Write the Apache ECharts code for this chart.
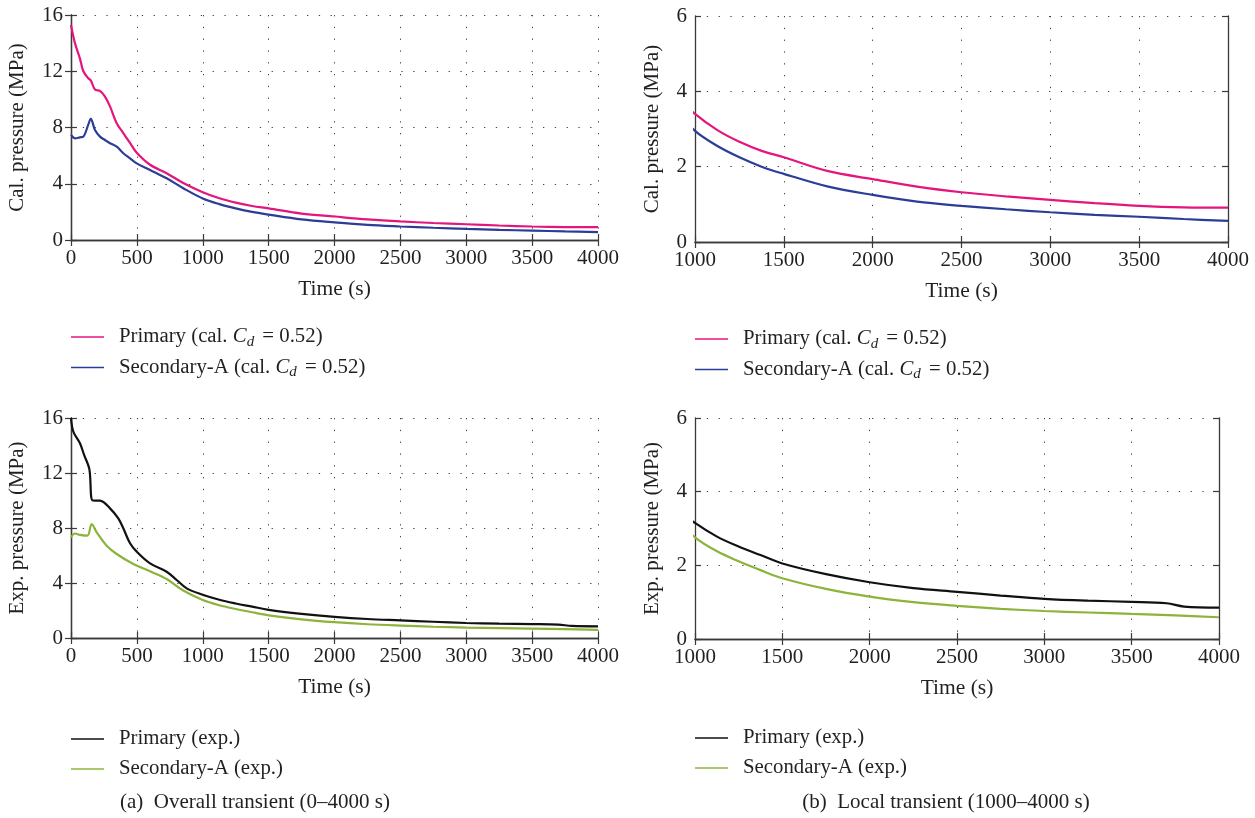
<!DOCTYPE html>
<html>
<head>
<meta charset="utf-8">
<script src="https://cdn.jsdelivr.net/npm/echarts@6/dist/echarts.min.js"></script>
<style>
html,body{margin:0;padding:0;background:#fff;}
#c{width:1255px;height:818px;}
</style>
</head>
<body>
<div id="c"></div>
<script>
// ---------- data ----------
const tCal = [0, 30, 68, 94, 131, 150, 182, 220, 258, 296, 347, 397, 448, 499, 600, 726, 852, 1000, 1126, 1250, 1375, 1500, 1750, 2000, 2250, 2500, 2750, 3000, 3250, 3500, 3750, 4000];
const calPrimary = [15.3, 14.0, 12.9, 12.0, 11.5, 11.35, 10.7, 10.6, 10.2, 9.5, 8.3, 7.6, 6.9, 6.2, 5.35, 4.75, 4.05, 3.4, 2.97, 2.66, 2.42, 2.25, 1.88, 1.67, 1.47, 1.32, 1.21, 1.12, 1.03, 0.96, 0.92, 0.91];
const calSecondary = [7.47, 7.23, 7.3, 7.35, 8.2, 8.62, 7.82, 7.35, 7.11, 6.88, 6.64, 6.17, 5.81, 5.45, 4.98, 4.39, 3.68, 2.95, 2.55, 2.25, 2.0, 1.81, 1.47, 1.25, 1.07, 0.96, 0.87, 0.79, 0.72, 0.67, 0.61, 0.56];

const tExpPrimary = [0, 18, 68, 100, 139, 165, 220, 296, 359, 397, 448, 499, 600, 726, 802, 878, 1000, 1126, 1250, 1375, 1500, 1750, 2000, 2250, 2500, 2750, 3000, 3250, 3500, 3700, 3800, 4000];
const expPrimary = [16.0, 15.0, 14.16, 13.3, 12.3, 10.0, 9.99, 9.43, 8.7, 7.98, 6.89, 6.28, 5.43, 4.82, 4.22, 3.61, 3.15, 2.78, 2.51, 2.28, 2.05, 1.76, 1.54, 1.38, 1.28, 1.18, 1.09, 1.04, 1.01, 0.97, 0.88, 0.85];
const tExpSecondary = [0, 30, 68, 124, 157, 195, 271, 347, 473, 600, 726, 852, 1000, 1126, 1250, 1375, 1500, 1750, 2000, 2250, 2500, 2750, 3000, 3250, 3500, 3750, 4000];
const expSecondary = [7.32, 7.6, 7.5, 7.44, 8.29, 7.69, 6.71, 6.11, 5.38, 4.85, 4.29, 3.45, 2.76, 2.38, 2.11, 1.87, 1.65, 1.36, 1.15, 1.0, 0.9, 0.82, 0.76, 0.72, 0.68, 0.64, 0.59];

const seriesNames = ['Primary (cal. Cd = 0.52)', 'Secondary-A (cal. Cd = 0.52)', 'Primary (exp.)', 'Secondary-A (exp.)'];
const xAxisName = 'Time (s)';
const yAxisNames = ['Cal. pressure (MPa)', 'Cal. pressure (MPa)', 'Exp. pressure (MPa)', 'Exp. pressure (MPa)'];
const captions = ['(a)  Overall transient (0\u20134000 s)', '(b)  Local transient (1000\u20134000 s)'];

// ---------- layout / style ----------
const FONT = '"Liberation Serif", "DejaVu Serif", serif';
const TXT = '#231f20';
const AX = '#3a3a3a';
const colors = ['#e4157c', '#2b3d97', '#111111', '#8cb43a'];

const panels = [
  {left: 71, top: 15, width: 527, height: 225, xmin: 0, ymax: 16, yint: 4, nameGap: 43},
  {left: 695, top: 16, width: 533, height: 226, xmin: 1000, ymax: 6, yint: 2, nameGap: 32},
  {left: 71, top: 418, width: 527, height: 220, xmin: 0, ymax: 16, yint: 4, nameGap: 43},
  {left: 695, top: 418, width: 524, height: 221, xmin: 1000, ymax: 6, yint: 2, nameGap: 32}
];

const grid = [], xAxis = [], yAxis = [];
panels.forEach((p, i) => {
  grid.push({left: p.left, top: p.top, width: p.width, height: p.height, containLabel: false});
  const tick = {show: true, inside: true, length: 6, lineStyle: {color: AX, width: 1.2}};
  const line = {show: true, lineStyle: {color: AX, width: 1.3}};
  const split = {show: true, lineStyle: {color: '#444', width: 1, type: [1.3, 10.5]}};
  xAxis.push({
    type: 'value', gridIndex: i, position: 'bottom', min: p.xmin, max: 4000, interval: 500,
    axisLine: line, axisTick: tick, splitLine: split,
    axisLabel: {fontFamily: FONT, fontSize: 21, color: TXT, margin: 8, formatter: v => String(v)},
    name: xAxisName, nameLocation: 'middle', nameGap: 38,
    nameTextStyle: {fontFamily: FONT, fontSize: 21.5, color: TXT}
  });
  xAxis.push({
    type: 'value', gridIndex: i, position: 'top', min: p.xmin, max: 4000, interval: 500,
    axisLine: line, axisTick: tick, splitLine: {show: false}, axisLabel: {show: false}
  });
  yAxis.push({
    type: 'value', gridIndex: i, position: 'left', min: 0, max: p.ymax, interval: p.yint,
    axisLine: line, axisTick: tick, splitLine: split,
    axisLabel: {fontFamily: FONT, fontSize: 21, color: TXT, margin: 8, formatter: v => String(v)},
    name: yAxisNames[i], nameLocation: 'middle', nameGap: p.nameGap, nameRotate: 90,
    nameTextStyle: {fontFamily: FONT, fontSize: 21, color: TXT}
  });
  yAxis.push({
    type: 'value', gridIndex: i, position: 'right', min: 0, max: p.ymax, interval: p.yint,
    axisLine: line, axisTick: tick, splitLine: {show: false}, axisLabel: {show: false}
  });
});

function zip(t, v) { return t.map((x, k) => [x, v[k]]); }
const series = [];
function addLine(name, panel, t, v, color) {
  series.push({
    name: name, type: 'line', xAxisIndex: panel * 2, yAxisIndex: panel * 2,
    data: zip(t, v), showSymbol: false, symbol: 'none', smooth: 0.35,
    lineStyle: {color: color, width: 2.2}, itemStyle: {color: color},
    clip: true, animation: false, silent: true
  });
}
addLine(seriesNames[0], 0, tCal, calPrimary, colors[0]);
addLine(seriesNames[1], 0, tCal, calSecondary, colors[1]);
addLine(seriesNames[0], 1, tCal, calPrimary, colors[0]);
addLine(seriesNames[1], 1, tCal, calSecondary, colors[1]);
addLine(seriesNames[2], 2, tExpPrimary, expPrimary, colors[2]);
addLine(seriesNames[3], 2, tExpSecondary, expSecondary, colors[3]);
addLine(seriesNames[2], 3, tExpPrimary, expPrimary, colors[2]);
addLine(seriesNames[3], 3, tExpSecondary, expSecondary, colors[3]);

const rich = {
  g: {width: 10},
  n: {fontFamily: FONT, fontSize: 20.8, color: TXT},
  i: {fontFamily: FONT, fontSize: 20.8, fontStyle: 'italic', color: TXT},
  s: {fontFamily: FONT, fontSize: 15, fontStyle: 'italic', color: TXT, padding: [10, 3, 0, 0]}
};
function legendFmt(name) {
  const m = name.split('Cd');
  if (m.length === 2) {
    return '{g| }{n|' + m[0] + '}{i|C}{s|d}{n|' + m[1] + '}';
  }
  return '{g| }{n|' + name + '}';
}
function mkLegend(left, top, names) {
  return {
    left: left, top: top, orient: 'vertical', padding: 0, itemGap: 6,
    icon: 'rect', itemWidth: 33, itemHeight: 1.3, selectedMode: false,
    data: names, formatter: legendFmt,
    textStyle: {fontFamily: FONT, fontSize: 20.8, color: TXT, lineHeight: 24, rich: rich}
  };
}
const legend = [
  mkLegend(71, 325, [seriesNames[0], seriesNames[1]]),
  mkLegend(695, 327, [seriesNames[0], seriesNames[1]]),
  mkLegend(71, 727, [seriesNames[2], seriesNames[3]]),
  mkLegend(695, 726, [seriesNames[2], seriesNames[3]])
];

const graphic = [
  {type: 'text', x: 255, y: 792, style: {text: captions[0], font: '21px ' + FONT, fill: TXT, align: 'center', verticalAlign: 'top'}},
  {type: 'text', x: 946, y: 792, style: {text: captions[1], font: '21px ' + FONT, fill: TXT, align: 'center', verticalAlign: 'top'}}
];

const chart = echarts.init(document.getElementById('c'), null, {renderer: 'canvas'});
chart.setOption({
  animation: false, backgroundColor: '#ffffff',
  grid: grid, xAxis: xAxis, yAxis: yAxis, series: series, legend: legend, graphic: graphic
});
</script>
</body>
</html>
